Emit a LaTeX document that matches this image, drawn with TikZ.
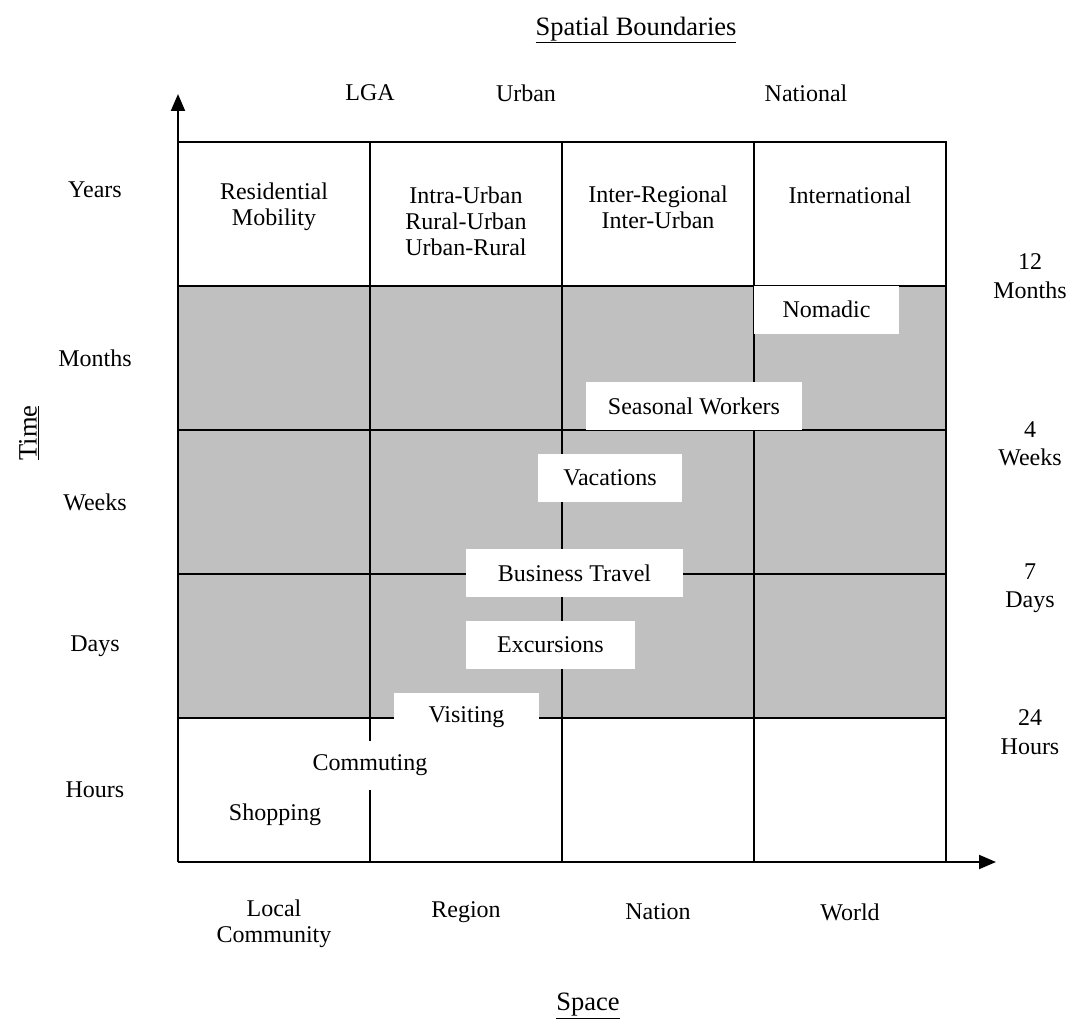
\documentclass[tikz,border=0pt]{standalone}
\usepackage{fontspec}
\setmainfont{Liberation Serif}
\usetikzlibrary{arrows.meta}
\tikzset{
  lbl/.style={font=\fontsize{24}{26}\selectfont, align=center, inner sep=0pt},
  rlbl/.style={font=\fontsize{24}{28.5}\selectfont, align=center, inner sep=0pt},
  ttl/.style={font=\fontsize{26.5}{32}\selectfont, inner sep=0pt},
  wbox/.style={lbl, fill=white, minimum height=48pt},
  gridline/.style={line width=2pt, black},
  axis/.style={line width=2pt, black, -{Triangle[length=17pt,width=14pt]}}
}
\definecolor{bandgray}{RGB}{192,192,192}
\begin{document}
\begin{tikzpicture}[x=1pt,y=-1pt]
\useasboundingbox (0,0) rectangle (1072,1030);
% coordinates
\coordinate (o) at (178,862);
\coordinate (ytop) at (178,94);
\coordinate (xend) at (996,862);
\coordinate (tl) at (178,142);
\coordinate (tr) at (946,142);
\coordinate (br) at (946,862);
% shaded band
\fill[bandgray] (178,286) rectangle (946,718);
% grid
\draw[gridline] (tl) -- (tr) -- (br);
\foreach \yy in {286,430,574,718} \draw[gridline] (178,\yy) -- (946,\yy);
\foreach \xx in {370,562,754} \draw[gridline] (\xx,142) -- (\xx,862);
% axes
\draw[axis] (o) -- (ytop);
\draw[axis] (o) -- (xend);
% titles
\node[ttl] (sb) at (636,30) {\underline{Spatial Boundaries}};
\node[ttl] (space) at (588,1006) {\underline{Space}};
\node[ttl, rotate=90] (time) at (29,433) {\underline{Time}};
% top labels
\node[lbl] (lga) at (370,93) {LGA};
\node[lbl] (urban) at (526,93) {Urban};
\node[lbl] (national) at (806,93) {National};
% left labels
\node[lbl] (years) at (95,190) {Years};
\node[lbl] (months) at (95,358) {Months};
\node[lbl] (weeks) at (95,502) {Weeks};
\node[lbl] (days) at (95,646) {Days};
\node[lbl] (hours) at (95,790) {Hours};
% right labels
\node[rlbl] (r12) at (1030,276) {12\\Months};
\node[rlbl] (r4) at (1030,444) {4\\Weeks};
\node[rlbl] (r7) at (1030,588) {7\\Days};
\node[rlbl] (r24) at (1030,732) {24\\Hours};
% top row cells
\node[lbl] (resid) at (274,207) {Residential\\Mobility};
\node[lbl] (intra) at (466,221) {Intra-Urban\\Rural-Urban\\Urban-Rural};
\node[lbl] (inter) at (658,207) {Inter-Regional\\Inter-Urban};
\node[lbl] (intl) at (850,195) {International};
% bottom labels
\node[lbl] (local) at (274,924) {Local\\Community};
\node[lbl] (region) at (466,912) {Region};
\node[lbl] (nation) at (658,912) {Nation};
\node[lbl] (world) at (850,912) {World};
% activity boxes
\node[wbox, minimum width=145pt] (nomadic) at (826.5,309.5) {Nomadic};
\node[wbox, minimum width=216pt] (seasonal) at (694,406) {Seasonal Workers};
\node[wbox, minimum width=144pt] (vac) at (610,477.5) {Vacations};
\node[wbox, minimum width=217pt] (bus) at (574.5,573) {Business Travel};
\node[wbox, minimum width=169pt] (exc) at (550.5,645) {Excursions};
\node[wbox, minimum width=145pt] (vis) at (466.5,717) {Visiting};
\node[wbox, minimum width=145pt, minimum height=49pt] (comm) at (370,765.5) {Commuting};
\node[lbl] (shop) at (275,815) {Shopping};
\end{tikzpicture}
\end{document}
